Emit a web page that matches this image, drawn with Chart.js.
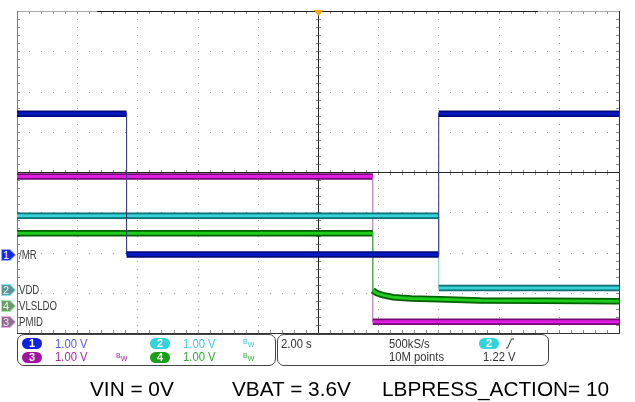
<!DOCTYPE html>
<html><head><meta charset="utf-8">
<script src="https://cdn.jsdelivr.net/npm/chart.js@4"></script>
<style>
html,body{margin:0;padding:0;background:#fff;width:635px;height:402px;overflow:hidden;font-family:"Liberation Sans",Arial,sans-serif}
#wrap{position:relative;width:635px;height:402px}
canvas{position:absolute;left:0;top:0}
.t{position:absolute;white-space:nowrap;line-height:1;font-size:12.5px;transform-origin:0 0;transform:scaleX(0.9)}
.box{position:absolute;border:1px solid #444;border-radius:7px;box-sizing:border-box}
.badge{position:absolute;width:20px;height:11px;border-radius:6px;color:#fff;font-size:11px;line-height:11px;text-align:center;font-weight:bold}
.bw{position:absolute;font-size:7px;line-height:1}
.bw sub{font-size:7px;vertical-align:-3px}
.mk{position:absolute;width:15px;height:12px;clip-path:polygon(0 0,62% 0,100% 50%,62% 100%,0 100%)}
.mk i{position:absolute;left:1px;top:1px;width:13px;height:10px;clip-path:polygon(0 0,60% 0,100% 50%,60% 100%,0 100%)}
.mk b{position:absolute;left:2px;top:0px;font-size:11px;line-height:12px;font-weight:normal;color:#fff}
.lab{position:absolute;font-size:12px;line-height:1;color:#3a3a3a;transform-origin:0 0;transform:scaleX(0.8);white-space:nowrap}
.cap{position:absolute;font-size:20.8px;line-height:1;color:#000;white-space:nowrap;top:379px}
</style></head>
<body>
<div id="wrap">
<canvas id="c" width="635" height="402"></canvas>

<div class="mk" style="left:1px;top:249px;background:#9ab0ff"><i style="background:#1428f0"></i><b>1</b></div>
<div class="mk" style="left:1px;top:284px;background:#7fe8ec"><i style="background:#5e9494"></i><b style="color:#dff">2</b></div>
<div class="mk" style="left:1px;top:300px;background:#9cf09c"><i style="background:#6e9a6e"></i><b style="color:#dfd">4</b></div>
<div class="mk" style="left:1px;top:316px;background:#f0a8f0"><i style="background:#8e708e"></i><b style="color:#fdf">3</b></div>
<div class="lab" style="left:19px;top:249px">/MR</div>
<div class="lab" style="left:19px;top:284px">VDD</div>
<div class="lab" style="left:19px;top:300px">VLSLDO</div>
<div class="lab" style="left:19px;top:316px">PMID</div>

<div class="box" style="left:17px;top:334px;width:259px;height:32px"></div>
<div class="box" style="left:277px;top:334px;width:272px;height:32px"></div>

<div class="badge" style="left:22px;top:338px;background:#1020e0">1</div>
<div class="t" style="left:55px;top:338px;color:#5a5ae6">1.00 V</div>
<div class="badge" style="left:150px;top:338px;background:#30d4dc">2</div>
<div class="t" style="left:183px;top:338px;color:#3cd0dc">1.00 V</div>
<div class="bw" style="left:243px;top:338px;color:#3cc8d4">B<sub>W</sub></div>

<div class="badge" style="left:22px;top:352px;background:#a014a0">3</div>
<div class="t" style="left:55px;top:351px;color:#a828a8">1.00 V</div>
<div class="bw" style="left:116px;top:352px;color:#a020a0">B<sub>W</sub></div>
<div class="badge" style="left:150px;top:352px;background:#18a018">4</div>
<div class="t" style="left:183px;top:351px;color:#30a830">1.00 V</div>
<div class="bw" style="left:243px;top:352px;color:#30a830">B<sub>W</sub></div>

<div class="t" style="left:281px;top:338px;color:#333">2.00 s</div>
<div class="t" style="left:389px;top:338px;color:#333">500kS/s</div>
<div class="t" style="left:389px;top:351px;color:#333">10M points</div>
<div class="badge" style="left:479px;top:338px;background:#30d4dc">2</div>
<svg style="position:absolute;left:505px;top:338px" width="10" height="11"><path d="M1 10 L2.5 10 L6.5 1 L9 1" fill="none" stroke="#333" stroke-width="1"/></svg>
<div class="t" style="left:483px;top:351px;color:#333">1.22 V</div>

<div class="cap" style="left:90px">VIN = 0V</div>
<div class="cap" style="left:232px">VBAT = 3.6V</div>
<div class="cap" style="left:382px">LBPRESS_ACTION= 10</div>
</div>

<script>
// ---- data read from the scope capture (time in s, 2 s/div; volts, 1 V/div) ----
const timeMin = -10, timeMax = 10;
const timeTicks = [-10, -8, -6, -4, -2, 0, 2, 4, 6, 8, 10];
const voltTicksDiv = [-4, -3, -2, -1, 0, 1, 2, 3, 4];
const ch1Name = "/MR";
const ch1Time  = [-10, -6.36, -6.36, 4.01, 4.01, 10];
const ch1Volts = [3.50, 3.50, 0.00, 0.00, 3.50, 3.50];
const ch2Name = "VDD";
const ch2Time  = [-10, 4.01, 4.01, 10];
const ch2Volts = [1.81, 1.81, 0.02, 0.02];
const ch3Name = "PMID";
const ch3Time  = [-10, 1.82, 1.82, 10];
const ch3Volts = [3.61, 3.61, 0.00, 0.00];
const ch4Name = "VLSLDO";
const ch4Time  = [-10, 1.82, 1.82, 1.95, 2.15, 2.5, 3.1, 4.05, 5.4, 7.5, 10];
const ch4Volts = [1.80, 1.80, 0.38, 0.31, 0.26, 0.21, 0.18, 0.16, 0.13, 0.12, 0.11];
// channel ground reference positions, in divisions from screen centre
const ch1Offset = -2.05, ch2Offset = -2.9, ch3Offset = -3.72, ch4Offset = -3.32;
const voltsPerDiv = 1.0;

const OUTER_W = 6.5, INNER_W = 3;
function pts(t, v){ return t.map((x, i) => ({x: x, y: v[i]})); }
function isVert(c){ return c.p0.parsed.x === c.p1.parsed.x; }
function pair(label, t, v, axis, outer, inner, thin, order){
  return [
    {label: label, data: pts(t, v), yAxisID: axis, order: order, borderColor: inner, borderWidth: INNER_W,
     pointRadius: 0, tension: 0, borderCapStyle: 'butt', borderJoinStyle: 'miter',
     segment: {borderWidth: c => isVert(c) ? 0.01 : INNER_W, borderColor: c => isVert(c) ? 'rgba(0,0,0,0)' : inner}},
    {label: label + ' band', data: pts(t, v), yAxisID: axis, order: order + 1, borderColor: outer, borderWidth: OUTER_W,
     pointRadius: 0, tension: 0, borderCapStyle: 'butt', borderJoinStyle: 'miter',
     segment: {borderWidth: c => isVert(c) ? 1.1 : OUTER_W, borderColor: c => isVert(c) ? thin : outer}}
  ];
}
function axisFor(off){
  return {type: 'linear', display: false, min: (-4 - off) * voltsPerDiv, max: (4 - off) * voltsPerDiv};
}

const graticule = {
  id: 'graticule',
  beforeDatasetsDraw(chart){
    const ctx = chart.ctx, a = chart.chartArea, xs = chart.scales.x, yd = chart.scales.yd;
    const X = v => Math.round(xs.getPixelForValue(v)), Y = v => Math.round(yd.getPixelForValue(v));
    const L = Math.round(a.left), R = Math.round(a.right), T = Math.round(a.top), B = Math.round(a.bottom);
    ctx.save();
    ctx.fillStyle = '#9c9c9c';
    timeTicks.forEach((tv, i) => {
      if (i === 0 || i === timeTicks.length - 1 || tv === 0) return;
      const x = X(tv);
      for (let k = 1; k < 40; k++) ctx.fillRect(x, Y(-4 + k * 0.2), 1, 1);
    });
    voltTicksDiv.forEach((dv, i) => {
      if (i === 0 || i === voltTicksDiv.length - 1 || dv === 0) return;
      const y = Y(dv);
      for (let k = 1; k < 50; k++) ctx.fillRect(X(timeMin + k * 0.4), y, 1, 1);
    });
    const cx = X(0), cy = Y(0);
    ctx.fillStyle = '#8a8a8a';
    for (let k = 1; k < 50; k++){
      const x = X(timeMin + k * 0.4);
      ctx.fillRect(x, cy - 2, 1, 5);
      ctx.fillRect(x, T, 1, 3);
      ctx.fillRect(x, B - 3, 1, 3);
    }
    for (let k = 1; k < 40; k++){
      const y = Y(-4 + k * 0.2);
      ctx.fillRect(cx - 2, y, 5, 1);
      ctx.fillRect(L, y, 3, 1);
      ctx.fillRect(R - 3, y, 3, 1);
    }
    ctx.fillStyle = '#262626';
    ctx.fillRect(cx, T, 1, B - T);
    ctx.fillRect(L, cy, R - L, 1);
    // frame
    ctx.fillStyle = '#a8a8a8'; ctx.fillRect(L, T, R - L + 1, 1);
    ctx.fillStyle = '#1e1e1e'; ctx.fillRect(97, T, 441, 1);
    ctx.fillStyle = '#7a7a7a'; ctx.fillRect(L, T, 1, B - T + 1);
    ctx.fillStyle = '#333'; ctx.fillRect(R, T, 1, B - T + 1); ctx.fillRect(L, B, R - L + 1, 1);
    ctx.restore();
  },
  afterDatasetsDraw(chart){
    const ctx = chart.ctx, a = chart.chartArea, xs = chart.scales.x;
    const cx = xs.getPixelForValue(0) + 0.5;
    ctx.save();
    ctx.fillStyle = '#f5a414';
    ctx.beginPath();
    ctx.moveTo(cx - 5, a.top - 1); ctx.lineTo(cx + 5, a.top - 1); ctx.lineTo(cx, a.top + 5);
    ctx.closePath(); ctx.fill();
    ctx.restore();
  }
};

const datasets = [].concat(
  pair(ch1Name, ch1Time, ch1Volts, 'y1', '#000a78', '#0a18c4', '#3c3c88', 1),
  pair(ch2Name, ch2Time, ch2Volts, 'y2', '#0e6e72', '#36d2da', '#88cccc', 3),
  pair(ch4Name, ch4Time, ch4Volts, 'y4', '#006000', '#1ecc1e', '#40b040', 5),
  pair(ch3Name, ch3Time, ch3Volts, 'y3', '#760876', '#e01ee0', '#b070b0', 7)
);

new Chart(document.getElementById('c'), {
  type: 'line',
  data: {datasets: datasets},
  options: {
    responsive: false, animation: false, devicePixelRatio: 1,
    layout: {padding: {left: 17, top: 11, right: 16, bottom: 69}},
    plugins: {legend: {display: false}, tooltip: {enabled: false}},
    scales: {
      x: {type: 'linear', display: false, min: timeMin, max: timeMax},
      yd: {type: 'linear', display: false, min: -4, max: 4},
      y1: axisFor(ch1Offset), y2: axisFor(ch2Offset), y3: axisFor(ch3Offset), y4: axisFor(ch4Offset)
    }
  },
  plugins: [graticule]
});
</script>
</body></html>
